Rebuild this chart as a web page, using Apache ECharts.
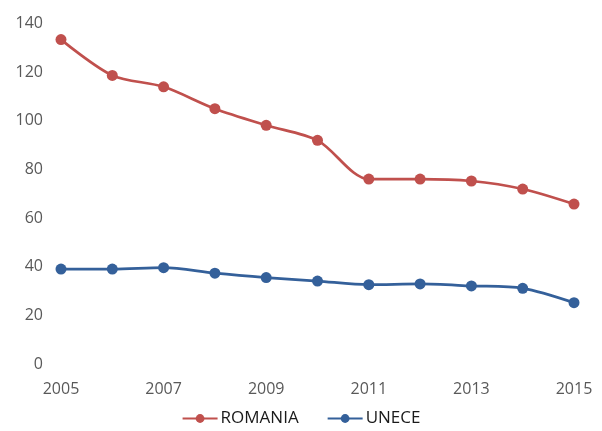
<!DOCTYPE html>
<html><head><meta charset="utf-8">
<script src="https://cdn.jsdelivr.net/npm/echarts@6/dist/echarts.min.js"></script>
<style>html,body{margin:0;padding:0;background:#fff}#c{width:602px;height:431px}</style>
</head><body><div id="c"></div>
<script>
var years = ['2005','2006','2007','2008','2009','2010','2011','2012','2013','2014','2015'];
var romania = [133.3, 118.6, 113.9, 104.9, 98.1, 91.9, 76.0, 76.0, 75.2, 71.9, 65.7];
var unece = [39.0, 39.0, 39.6, 37.3, 35.5, 34.1, 32.6, 32.9, 32.1, 31.1, 25.2];
var yTicks = {min: 0, max: 140, interval: 20};
var font = 'Open Sans';
var chart = echarts.init(document.getElementById('c'), null, {renderer: 'canvas'});
chart.setOption({
  animation: false,
  grid: {left: 61, right: 28, top: 23.3, bottom: 67, containLabel: false},
  legend: {
    top: 410, left: 'center', itemGap: 28, itemWidth: 35, itemHeight: 11, padding: 0,
    textStyle: {fontFamily: font, fontSize: 17, color: '#1a1a1a', padding: [0,0,0,-2]},
    data: ['ROMANIA', 'UNECE']
  },
  xAxis: {
    type: 'category', data: years, boundaryGap: false,
    axisLine: {show: false}, axisTick: {show: false}, splitLine: {show: false},
    axisLabel: {interval: 1, fontFamily: font, fontSize: 16, color: '#595959', margin: 17}
  },
  yAxis: {
    type: 'value', min: yTicks.min, max: yTicks.max, interval: yTicks.interval,
    axisLine: {show: false}, axisTick: {show: false}, splitLine: {show: false},
    axisLabel: {fontFamily: font, fontSize: 16, color: '#595959', margin: 18}
  },
  series: [
    {name: 'ROMANIA', type: 'line', data: romania, smooth: 0.3, symbol: 'circle', symbolSize: 11,
     itemStyle: {color: '#C0504D'}, lineStyle: {width: 2.75, color: '#C0504D'}},
    {name: 'UNECE', type: 'line', data: unece, smooth: 0.3, symbol: 'circle', symbolSize: 11,
     itemStyle: {color: '#34609A'}, lineStyle: {width: 2.75, color: '#34609A'}}
  ]
});
</script></body></html>
